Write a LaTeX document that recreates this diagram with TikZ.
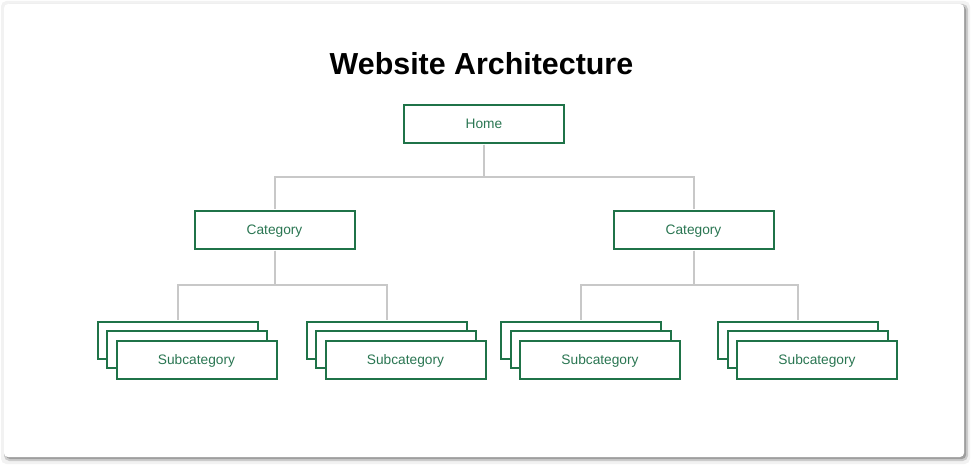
\documentclass[tikz,border=0pt]{standalone}
\usepackage{fontspec}
\setmainfont{Liberation Sans}
\usetikzlibrary{calc}
\definecolor{boxgreen}{RGB}{31,115,72}
\definecolor{textgreen}{RGB}{42,118,82}
\definecolor{linkgray}{RGB}{200,200,200}

\begin{document}
\begin{tikzpicture}[x=0.75pt,y=-0.75pt,
		box/.style={draw=boxgreen,line width=1.5pt,fill=white,minimum width=120pt,minimum height=28pt,inner sep=0pt,text=textgreen,text height=7.2pt,text depth=0.8pt,font=\fontsize{10.3}{12}\selectfont},
		link/.style={draw=linkgray,line width=1.5pt,shorten <=0.75pt,shorten >=0.75pt}]
			\useasboundingbox (0,0) rectangle (973,467);
			\fill[black!5,rounded corners=4pt] (1,1) rectangle (970,464);
			\fill[black!20,rounded corners=4pt] (4,4) rectangle (968,461);
			\fill[black!38,rounded corners=3pt] (6,6) rectangle (966,459);
			\fill[white,rounded corners=3pt] (4,4) rectangle (964,457);
			\node[anchor=base,font=\fontsize{22.8}{28}\selectfont\bfseries] (title) at (481.5,74.3) {Website Architecture};
			\node[box] (home) at (484,124) {Home};
			\node[box] (catL) at (274.5,230) {Category};
			\node[box] (catR) at (693.5,230) {Category};
			\foreach \n/\x in {subA/177.5,subB/386.5,subC/581,subD/798}{
				\node[box] (\n3) at (\x,340.5) {};
				\node[box] (\n2) at (\x+9.5,349.5) {};
				\node[box] (\n1) at (\x+19,360) {Subcategory};
			}
			\foreach \c in {catL,catR}
				\draw[link] (home.south) |- ($(home.south)!.5!(\c.north)$) -| (\c.north);
			\foreach \c/\s in {catL/subA,catL/subB,catR/subC,catR/subD}
				\draw[link] (\c.south) |- ($(\c.south)!.5!(\s3.north)$) -| (\s3.north);
		\end{tikzpicture}
\end{document}
